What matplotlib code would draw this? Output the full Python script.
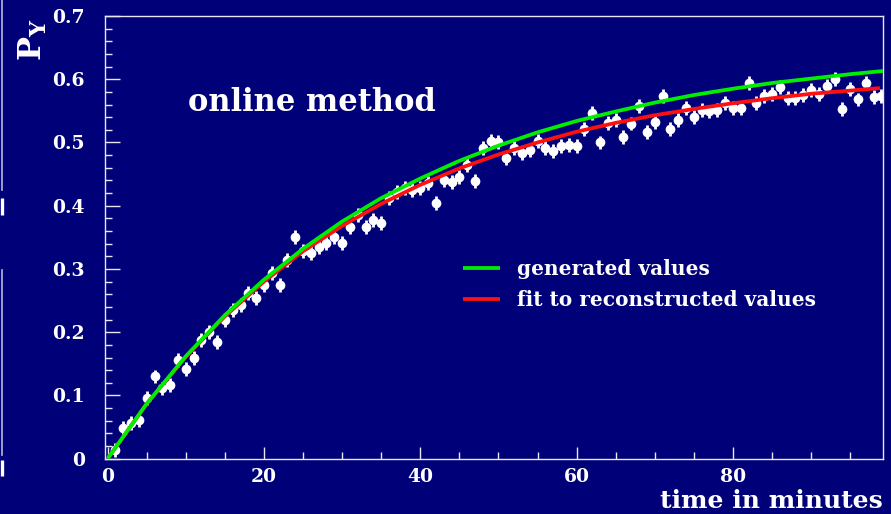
"""
Polarisation build-up P_Y vs time, "online method" panel.
Saves out.png (891x514).
"""
import matplotlib
matplotlib.use("Agg")
import matplotlib.pyplot as plt
from matplotlib.lines import Line2D
from matplotlib.ticker import MultipleLocator
import numpy as np

plt.rcParams.update({
    "font.family": "DejaVu Serif", "font.weight": "bold",
    "mathtext.fontset": "dejavuserif",
    "axes.linewidth": 1.0,
})

BG = "#000078"
FG = "#e8e8f4"
C_GEN, C_FIT = "#00ee00", "#ff1010"

# measured points, one per minute
minutes = np.arange(1, 100)
py = [0.014, 0.048, 0.056, 0.061, 0.096, 0.130, 0.111, 0.117, 0.156, 0.142,
      0.159, 0.188, 0.200, 0.184, 0.220, 0.235, 0.243, 0.262, 0.254, 0.275,
      0.293, 0.275, 0.314, 0.351, 0.328, 0.325, 0.335, 0.341, 0.350, 0.341,
      0.367, 0.386, 0.367, 0.378, 0.372, 0.412, 0.422, 0.428, 0.425, 0.428,
      0.436, 0.405, 0.441, 0.438, 0.446, 0.465, 0.439, 0.491, 0.502, 0.501,
      0.475, 0.491, 0.483, 0.488, 0.502, 0.491, 0.486, 0.494, 0.496, 0.495,
      0.521, 0.547, 0.500, 0.531, 0.536, 0.509, 0.530, 0.558, 0.516, 0.533,
      0.573, 0.521, 0.536, 0.555, 0.540, 0.551, 0.549, 0.551, 0.562, 0.555,
      0.554, 0.594, 0.562, 0.574, 0.577, 0.587, 0.570, 0.571, 0.575, 0.583,
      0.577, 0.590, 0.600, 0.553, 0.584, 0.568, 0.594, 0.572, 0.573]
py_err = 0.011
t_err = 0.5

# curves
curve_t = [0, 5, 10, 15, 20, 25, 30, 35, 40, 45, 50,
           55, 60, 65, 70, 75, 80, 85, 90, 95, 99.2]
generated = [0.0, 0.087, 0.162, 0.227, 0.283, 0.332, 0.375, 0.412, 0.443, 0.471, 0.495,
             0.516, 0.534, 0.549, 0.563, 0.575, 0.585, 0.594, 0.601, 0.608, 0.613]
fit_t = [0, 5, 10, 15, 20, 25, 30, 35, 40, 45, 50,
         55, 60, 65, 70, 75, 80, 85, 90, 95, 98.8]
fitted = [0.0, 0.087, 0.161, 0.225, 0.280, 0.328, 0.368, 0.403, 0.433, 0.459, 0.481,
          0.500, 0.517, 0.531, 0.543, 0.553, 0.562, 0.570, 0.577, 0.582, 0.586]

fig = plt.figure(figsize=(8.91, 5.14), dpi=100, facecolor=BG)
ax = fig.add_axes([0.1173, 0.1076, 0.8737, 0.8613], facecolor=BG)

ax.errorbar(minutes, py, yerr=py_err, xerr=t_err, fmt="o", color="white",
            ms=7, mec="none", elinewidth=2.0, capsize=0, zorder=2)
ax.plot(fit_t, fitted, color=C_FIT, lw=2.7, zorder=3,
        solid_capstyle="butt", label="fit to reconstructed values")
ax.plot(curve_t, generated, color=C_GEN, lw=2.7, zorder=4,
        solid_capstyle="butt", label="generated values")

ax.set_xlim(-0.4, 99.2)
ax.set_ylim(0, 0.7)
ax.xaxis.set_major_locator(MultipleLocator(20))
ax.xaxis.set_minor_locator(MultipleLocator(5))
ax.yaxis.set_major_locator(MultipleLocator(0.1))
ax.yaxis.set_minor_locator(MultipleLocator(0.02))
ax.yaxis.set_major_formatter(lambda v, p: "0" if abs(v) < 1e-9 else f"{v:.1f}")

for s in ax.spines.values():
    s.set_color(FG)
ax.tick_params(axis="both", which="both", direction="in", colors=FG,
               labelcolor="white", width=1.0)
ax.tick_params(axis="x", which="major", length=8.4, pad=7, labelsize=13.5)
ax.tick_params(axis="x", which="minor", length=4.8)
ax.tick_params(axis="y", which="major", length=10.6, pad=14, labelsize=13.5)
ax.tick_params(axis="y", which="minor", length=5.3)

ax.text(-0.092, 0.995, r"$\mathbf{P_Y}$", transform=ax.transAxes, rotation=90,
        ha="center", va="top", fontsize=23, color="white")
ax.text(1.0, -0.111, "time in minutes", transform=ax.transAxes,
        ha="right", va="baseline", fontsize=18, color="white")
ax.text(0.107, 0.785, "online method", transform=ax.transAxes,
        ha="left", va="baseline", fontsize=22, color="white")

handles, labels = ax.get_legend_handles_labels()
leg = ax.legend(handles[::-1], labels[::-1], loc="upper left",
                bbox_to_anchor=(0.4605, 0.451), frameon=False, fontsize=14.5,
                handlelength=1.84, handletextpad=0.85, labelspacing=0.54,
                borderpad=0, borderaxespad=0)
for txt in leg.get_texts():
    txt.set_color("white")

# remnants of the neighbouring panel along the left edge (frame line and
# the clipped stems of its "1" labels)
edge = dict(color="#b8b8d8", lw=1.2)
fig.add_artist(Line2D([0.002, 0.002], [1.0, 0.63], **edge))
fig.add_artist(Line2D([0.002, 0.002], [0.475, 0.115], **edge))
stem = dict(color="white", lw=2.4, solid_capstyle="butt")
fig.add_artist(Line2D([0.0025, 0.0025], [0.582, 0.614], **stem))
fig.add_artist(Line2D([0.0025, 0.0025], [0.074, 0.106], **stem))

fig.savefig("out.png", dpi=100, facecolor=BG)
